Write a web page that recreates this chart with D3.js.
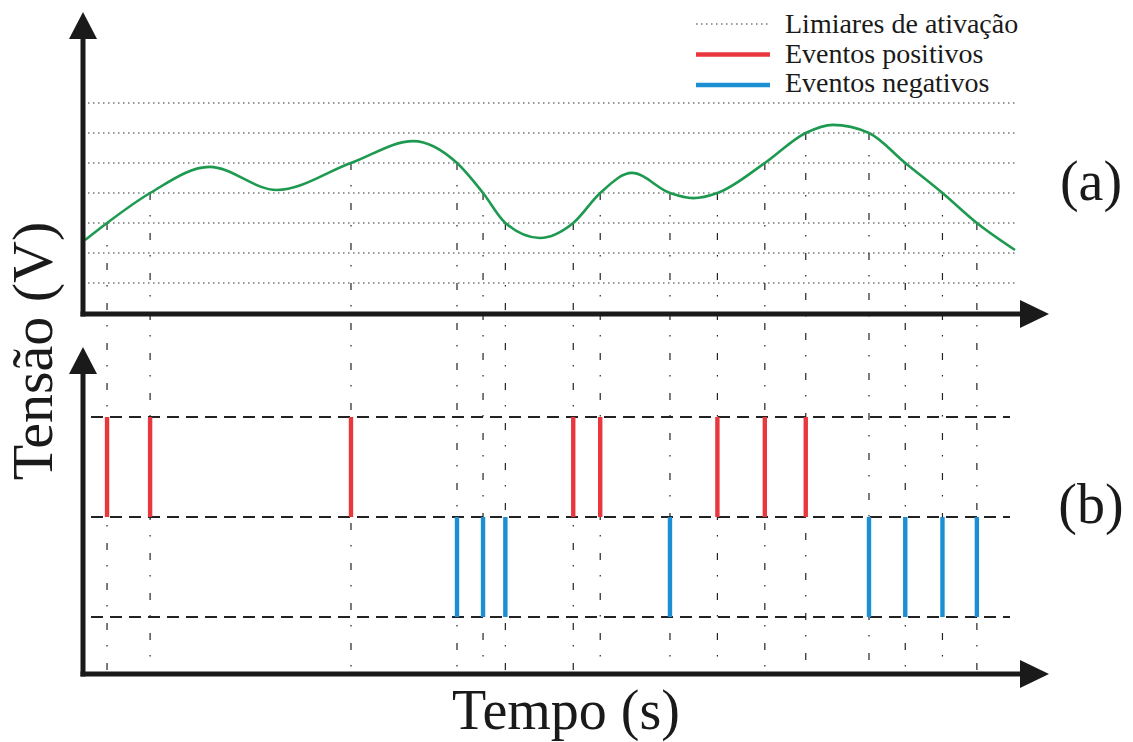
<!DOCTYPE html>
<html>
<head>
<meta charset="utf-8">
<script src="https://cdn.jsdelivr.net/npm/d3@7"></script>
<style>
  body { margin: 0; background: #fff; }
  text { font-family: "Liberation Serif", "Times New Roman", "DejaVu Serif", serif; fill: #1a1a1a; }
</style>
</head>
<body>
<div id="chart"></div>
<script>
"use strict";

// signal (time in s, tension in threshold units)
var signalT = [0, 0.237, 0.70, 1.34, 2.06, 2.86, 3.53, 4.0, 4.28, 4.52, 4.89, 5.25, 5.54, 5.88, 6.29, 6.54, 6.80, 7.31, 7.75, 8.04, 8.43, 8.82, 9.22, 9.59, 10.0];
var signalV = [2.43, 3.0, 4.0, 4.87, 4.1, 5.0, 5.73, 5.0, 4.0, 3.0, 2.5, 3.0, 4.0, 4.67, 4.0, 3.83, 4.0, 5.0, 6.0, 6.27, 6.0, 5.0, 4.0, 3.0, 2.1];

var thresholds = [1, 2, 3, 4, 5, 6, 7];

// events: time and threshold level crossed
var posTimes  = [0.237, 0.70, 2.86, 5.25, 5.54, 6.80, 7.31, 7.75];
var posLevels = [3, 4, 5, 3, 4, 4, 5, 6];
var negTimes  = [4.0, 4.28, 4.52, 6.29, 8.43, 8.82, 9.22, 9.59];
var negLevels = [5, 4, 3, 4, 6, 5, 4, 3];

var eventLevels = [1, 0, -1];

var legendLabels = ["Limiares de ativação", "Eventos positivos", "Eventos negativos"];

var green = "#1e9a50", red = "#e8383d", blue = "#1b8fd2";

var W = 1133, H = 742;
var svg = d3.select("#chart").append("svg")
    .attr("width", W)
    .attr("height", H);

var axisX = 83, topAxisY = 314, botAxisY = 674;

var x = d3.scaleLinear().domain([0, 10]).range([85, 1015]);
var yTop = d3.scaleLinear().domain([0, 7]).range([313, 103]);
var yBot = d3.scaleLinear().domain([-1, 1]).range([617, 417]);

// threshold dotted lines
svg.append("g").selectAll("line")
    .data(thresholds)
  .enter().append("line")
    .attr("x1", 88).attr("x2", 1017)
    .attr("y1", function(d) { return yTop(d); })
    .attr("y2", function(d) { return yTop(d); })
    .attr("stroke", "#333")
    .attr("stroke-width", 1.1)
    .attr("stroke-dasharray", "1.5,3.5");

// bottom dashed levels
svg.append("g").selectAll("line")
    .data(eventLevels)
  .enter().append("line")
    .attr("x1", 91).attr("x2", 1010)
    .attr("y1", function(d) { return yBot(d); })
    .attr("y2", function(d) { return yBot(d); })
    .attr("stroke", "#222")
    .attr("stroke-width", 2)
    .attr("stroke-dasharray", "12,7");

var events = posTimes.map(function(t, i) { return {t: t, level: posLevels[i], sign: 1}; })
  .concat(negTimes.map(function(t, i) { return {t: t, level: negLevels[i], sign: -1}; }));

// vertical dash-dot guides
svg.append("g").selectAll("line")
    .data(events)
  .enter().append("line")
    .attr("x1", function(d) { return x(d.t); })
    .attr("x2", function(d) { return x(d.t); })
    .attr("y1", function(d) { return yTop(d.level); })
    .attr("y2", botAxisY)
    .attr("stroke", "#222")
    .attr("stroke-width", 1.2)
    .attr("stroke-dasharray", "7,15,1.5,16.5");

// signal curve
var line = d3.line()
    .x(function(d, i) { return x(signalT[i]); })
    .y(function(d) { return yTop(d); })
    .curve(d3.curveMonotoneX);

svg.append("path")
    .datum(signalV)
    .attr("d", line)
    .attr("fill", "none")
    .attr("stroke", green)
    .attr("stroke-width", 2.6);

// event bars
svg.append("g").selectAll("line")
    .data(events)
  .enter().append("line")
    .attr("x1", function(d) { return x(d.t); })
    .attr("x2", function(d) { return x(d.t); })
    .attr("y1", function(d) { return yBot(0); })
    .attr("y2", function(d) { return yBot(d.sign); })
    .attr("stroke", function(d) { return d.sign > 0 ? red : blue; })
    .attr("stroke-width", 4.4);

// axes with arrows
function axes(yBase, yTip) {
  var g = svg.append("g");
  g.append("line")
      .attr("x1", axisX).attr("x2", axisX)
      .attr("y1", yBase + 2.5).attr("y2", yTip + 20)
      .attr("stroke", "#1a1a1a").attr("stroke-width", 5);
  g.append("line")
      .attr("x1", axisX - 2.5).attr("x2", 1025)
      .attr("y1", yBase).attr("y2", yBase)
      .attr("stroke", "#1a1a1a").attr("stroke-width", 5);
  g.append("path")
      .attr("d", "M" + axisX + "," + yTip + " L" + (axisX + 14) + "," + (yTip + 27) +
                 " L" + (axisX - 14) + "," + (yTip + 27) + "Z")
      .attr("fill", "#1a1a1a");
  g.append("path")
      .attr("d", "M1049," + yBase + " L1020," + (yBase - 14) + " L1020," + (yBase + 14) + "Z")
      .attr("fill", "#1a1a1a");
}
axes(topAxisY, 12);
axes(botAxisY, 347);

// labels
svg.append("text")
    .attr("transform", "translate(52,351) rotate(-90)")
    .attr("text-anchor", "middle")
    .style("font-size", "58px")
    .text("Tensão (V)");

svg.append("text")
    .attr("x", 566).attr("y", 729)
    .attr("text-anchor", "middle")
    .style("font-size", "56px")
    .text("Tempo (s)");

svg.append("text")
    .attr("x", 1091).attr("y", 200)
    .attr("text-anchor", "middle")
    .style("font-size", "56px")
    .text("(a)");

svg.append("text")
    .attr("x", 1091).attr("y", 523)
    .attr("text-anchor", "middle")
    .style("font-size", "56px")
    .text("(b)");

// legend
var legend = svg.append("g");
var legendY = [24, 54.5, 85];
var legendBase = [33, 63, 92];
legend.selectAll("line")
    .data(legendLabels)
  .enter().append("line")
    .attr("x1", 696).attr("x2", 770)
    .attr("y1", function(d, i) { return legendY[i]; })
    .attr("y2", function(d, i) { return legendY[i]; })
    .attr("stroke", function(d, i) { return i === 0 ? "#333" : (i === 1 ? red : blue); })
    .attr("stroke-width", function(d, i) { return i === 0 ? 1.1 : 4.5; })
    .attr("stroke-dasharray", function(d, i) { return i === 0 ? "1.5,3.5" : null; });

legend.selectAll("text")
    .data(legendLabels)
  .enter().append("text")
    .attr("x", 785)
    .attr("y", function(d, i) { return legendBase[i]; })
    .style("font-size", "28px")
    .text(function(d) { return d; });
</script>
</body>
</html>
